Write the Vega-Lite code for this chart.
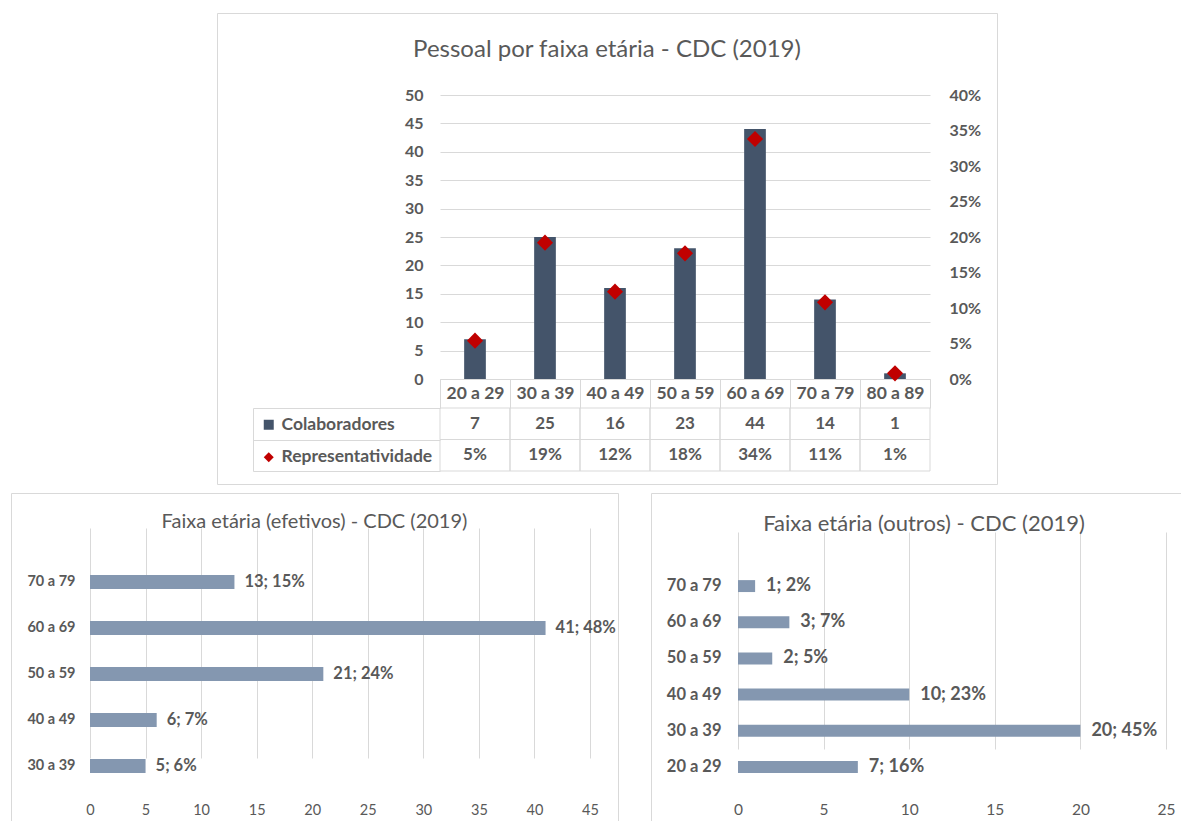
{
  "$schema": "https://vega.github.io/schema/vega-lite/v6.json",
  "padding": {"left": 10, "top": 12, "right": 0, "bottom": 0},
  "background": "white",
  "spacing": 7,
  "vconcat": [
    {
      "spacing": 0,
      "hconcat": [
        {
          "width": 205, "height": 10,
          "data": {"values": [{}]},
          "mark": {"type": "point", "opacity": 0},
          "encoding": {},
          "view": {"stroke": null}
        },
        {
          "width": 780, "height": 471,
          "title": {"text": "Pessoal por faixa etária - CDC (2019)", "fontSize": 24, "offset": -61, "baseline": "middle"},
          "data": {"values": [
            {"faixa": "20 a 29", "serie": "Colaboradores", "valor": 7},
            {"faixa": "30 a 39", "serie": "Colaboradores", "valor": 25},
            {"faixa": "40 a 49", "serie": "Colaboradores", "valor": 16},
            {"faixa": "50 a 59", "serie": "Colaboradores", "valor": 23},
            {"faixa": "60 a 69", "serie": "Colaboradores", "valor": 44},
            {"faixa": "70 a 79", "serie": "Colaboradores", "valor": 14},
            {"faixa": "80 a 89", "serie": "Colaboradores", "valor": 1},
            {"faixa": "20 a 29", "serie": "Representatividade", "valor": 0.054},
            {"faixa": "30 a 39", "serie": "Representatividade", "valor": 0.192},
            {"faixa": "40 a 49", "serie": "Representatividade", "valor": 0.123},
            {"faixa": "50 a 59", "serie": "Representatividade", "valor": 0.177},
            {"faixa": "60 a 69", "serie": "Representatividade", "valor": 0.338},
            {"faixa": "70 a 79", "serie": "Representatividade", "valor": 0.108},
            {"faixa": "80 a 89", "serie": "Representatividade", "valor": 0.008}
          ]},
          "encoding": {
            "x": {
              "field": "faixa", "type": "nominal", "sort": null, "title": null,
              "scale": {"range": [223, 713], "paddingInner": 0, "paddingOuter": 0},
              "axis": {"orient": "bottom", "offset": -105, "domain": true, "domainColor": "#d9d9d9", "ticks": true, "tickBand": "extent", "tickSize": 29, "tickColor": "#d9d9d9", "labelPadding": -15, "labelBaseline": "middle", "labelFontSize": 17.5, "labelFontWeight": "bold", "labelAngle": 0, "grid": false}
            },
            "color": {"field": "serie", "type": "nominal",
              "scale": {"domain": ["Colaboradores", "Representatividade"], "range": ["#44546a", "#c00000"]},
              "legend": {"orient": "none", "legendX": 249, "legendY": 403, "title": null, "padding": 0, "rowPadding": 13.5, "labelOffset": 4, "symbolSize": 100, "symbolStrokeWidth": 0, "labelFontSize": 17.5, "labelFontWeight": "bold", "labelColor": "#595959", "labelFont": "Lato"}}
          },
          "layer": [
            {
              "transform": [{"filter": "datum.serie === 'Colaboradores'"}],
              "mark": {"type": "bar", "width": {"band": 0.31}},
              "encoding": {
                "y": {"field": "valor", "type": "quantitative", "title": null,
                  "scale": {"domain": [0, 50], "range": [366, 82]},
                  "axis": {"orient": "left", "offset": -223, "values": [0, 5, 10, 15, 20, 25, 30, 35, 40, 45, 50], "grid": true, "gridColor": "#d9d9d9", "labelPadding": 17, "labelFontSize": 16, "labelFontWeight": "bold"}}
              }
            },
            {
              "transform": [{"filter": "datum.serie === 'Representatividade'"}],
              "mark": {"type": "point", "filled": true, "size": 260, "opacity": 1},
              "encoding": {
                "y": {"field": "valor", "type": "quantitative", "title": null,
                  "scale": {"domain": [0, 0.4], "range": [366, 82]},
                  "axis": {"orient": "right", "offset": -67, "values": [0, 0.05, 0.1, 0.15, 0.2, 0.25, 0.3, 0.35, 0.4], "format": ".0%", "grid": false, "labelPadding": 19, "labelFontSize": 16, "labelFontWeight": "bold"}},
                "shape": {"field": "serie", "type": "nominal",
                  "scale": {"domain": ["Colaboradores", "Representatividade"], "range": ["square", "diamond"]},
                  "legend": {"orient": "none", "legendX": 249, "legendY": 403, "title": null, "padding": 0, "rowPadding": 13.5, "labelOffset": 4, "symbolSize": 100, "symbolStrokeWidth": 0, "labelFontSize": 17.5, "labelFontWeight": "bold", "labelColor": "#595959", "labelFont": "Lato"}}
              }
            },
            {
              "layer": [
                {
                  "mark": {"type": "rect", "fill": "white", "fillOpacity": 0, "stroke": "#d9d9d9", "strokeWidth": 1},
                  "encoding": {
                    "color": {"value": null},
                    "y": {"field": "serie", "type": "nominal", "title": null,
                      "scale": {"domain": ["Colaboradores", "Representatividade"], "range": [395, 458], "paddingInner": 0, "paddingOuter": 0},
                      "axis": {"orient": "right", "offset": -744, "labels": false, "domain": true, "domainColor": "#d9d9d9", "ticks": true, "tickBand": "extent", "tickSize": 187, "tickColor": "#d9d9d9", "grid": false}}
                  }
                },
                {
                  "transform": [{"filter": "datum.serie === 'Colaboradores'"}],
                  "mark": {"type": "text", "fontSize": 17, "fontWeight": "bold", "fill": "#595959", "font": "Lato", "baseline": "middle"},
                  "encoding": {
                    "color": {"value": "#595959"},
                    "y": {"field": "serie", "type": "nominal", "title": null,
                      "scale": {"domain": ["Colaboradores", "Representatividade"], "range": [395, 458], "paddingInner": 0, "paddingOuter": 0},
                      "axis": {"orient": "right", "offset": -744, "labels": false, "domain": true, "domainColor": "#d9d9d9", "ticks": true, "tickBand": "extent", "tickSize": 187, "tickColor": "#d9d9d9", "grid": false}},
                    "text": {"field": "valor", "type": "quantitative", "format": "d"}
                  }
                },
                {
                  "transform": [{"filter": "datum.serie === 'Representatividade'"}],
                  "mark": {"type": "text", "fontSize": 17, "fontWeight": "bold", "fill": "#595959", "font": "Lato", "baseline": "middle"},
                  "encoding": {
                    "color": {"value": "#595959"},
                    "y": {"field": "serie", "type": "nominal", "title": null,
                      "scale": {"domain": ["Colaboradores", "Representatividade"], "range": [395, 458], "paddingInner": 0, "paddingOuter": 0},
                      "axis": {"orient": "right", "offset": -744, "labels": false, "domain": true, "domainColor": "#d9d9d9", "ticks": true, "tickBand": "extent", "tickSize": 187, "tickColor": "#d9d9d9", "grid": false}},
                    "text": {"field": "valor", "type": "quantitative", "format": ".0%"}
                  }
                }
              ]
            }
          ],
          "resolve": {"scale": {"y": "independent"}}
        }
      ]
    },
    {
      "spacing": 31,
      "hconcat": [
        {
          "width": 607, "height": 331,
          "title": {"text": "Faixa etária (efetivos) - CDC (2019)", "fontSize": 20, "offset": -49, "baseline": "middle"},
          "data": {"values": [
            {"faixa": "70 a 79", "n": 13, "pct": 0.15},
            {"faixa": "60 a 69", "n": 41, "pct": 0.48},
            {"faixa": "50 a 59", "n": 21, "pct": 0.24},
            {"faixa": "40 a 49", "n": 6, "pct": 0.07},
            {"faixa": "30 a 39", "n": 5, "pct": 0.06}
          ]},
          "transform": [{"calculate": "datum.n + '; ' + format(datum.pct, '.0%')", "as": "rotulo"}],
          "encoding": {
            "y": {"field": "faixa", "type": "nominal", "sort": null, "title": null,
              "scale": {"range": [66, 296], "paddingInner": 0, "paddingOuter": 0},
              "axis": {"orient": "left", "offset": -79, "labelPadding": 15, "labelFontSize": 14.5, "labelFontWeight": "bold"}},
            "x": {"field": "n", "type": "quantitative", "title": null,
              "scale": {"domain": [0, 45], "range": [79, 579]},
              "axis": {"orient": "bottom", "offset": -36, "values": [0, 5, 10, 15, 20, 25, 30, 35, 40, 45], "grid": true, "gridColor": "#d9d9d9", "labelFlush": false, "labelPadding": 22, "labelBaseline": "middle", "labelFontSize": 14.5}}
          },
          "layer": [
            {"mark": {"type": "bar", "color": "#8497b0", "height": {"band": 0.3}}},
            {"mark": {"type": "text", "align": "left", "baseline": "middle", "dx": 10, "fontSize": 16.5, "fontWeight": "bold", "color": "#595959", "font": "Lato"},
             "encoding": {"text": {"field": "rotulo", "type": "nominal"}}}
          ]
        },
        {
          "width": 546, "height": 331,
          "title": {"text": "Faixa etária (outros) - CDC (2019)", "fontSize": 22, "offset": -53, "baseline": "middle"},
          "data": {"values": [
            {"faixa": "70 a 79", "n": 1, "pct": 0.02},
            {"faixa": "60 a 69", "n": 3, "pct": 0.07},
            {"faixa": "50 a 59", "n": 2, "pct": 0.05},
            {"faixa": "40 a 49", "n": 10, "pct": 0.23},
            {"faixa": "30 a 39", "n": 20, "pct": 0.45},
            {"faixa": "20 a 29", "n": 7, "pct": 0.16}
          ]},
          "transform": [{"calculate": "datum.n + '; ' + format(datum.pct, '.0%')", "as": "rotulo"}],
          "encoding": {
            "y": {"field": "faixa", "type": "nominal", "sort": null, "title": null,
              "scale": {"range": [75, 292], "paddingInner": 0, "paddingOuter": 0},
              "axis": {"orient": "left", "offset": -87, "labelPadding": 17, "labelFontSize": 16.5, "labelFontWeight": "bold"}},
            "x": {"field": "n", "type": "quantitative", "title": null,
              "scale": {"domain": [0, 25], "range": [87, 515]},
              "axis": {"orient": "bottom", "offset": -35, "values": [0, 5, 10, 15, 20, 25], "grid": true, "gridColor": "#d9d9d9", "labelFlush": false, "labelPadding": 20, "labelBaseline": "middle", "labelFontSize": 15.5}}
          },
          "layer": [
            {"mark": {"type": "bar", "color": "#8497b0", "height": {"band": 0.33}}},
            {"mark": {"type": "text", "align": "left", "baseline": "middle", "dx": 11, "fontSize": 18, "fontWeight": "bold", "color": "#595959", "font": "Lato"},
             "encoding": {"text": {"field": "rotulo", "type": "nominal"}}}
          ]
        }
      ]
    }
  ],
  "config": {
    "view": {"stroke": "#d9d9d9", "strokeWidth": 1},
    "font": "Lato",
    "axis": {"labelFont": "Lato", "labelColor": "#595959", "domain": false, "ticks": false, "grid": false, "labelOverlap": false},
    "title": {"font": "Lato", "color": "#595959", "fontWeight": "normal", "anchor": "middle", "frame": "group"}
  }
}
